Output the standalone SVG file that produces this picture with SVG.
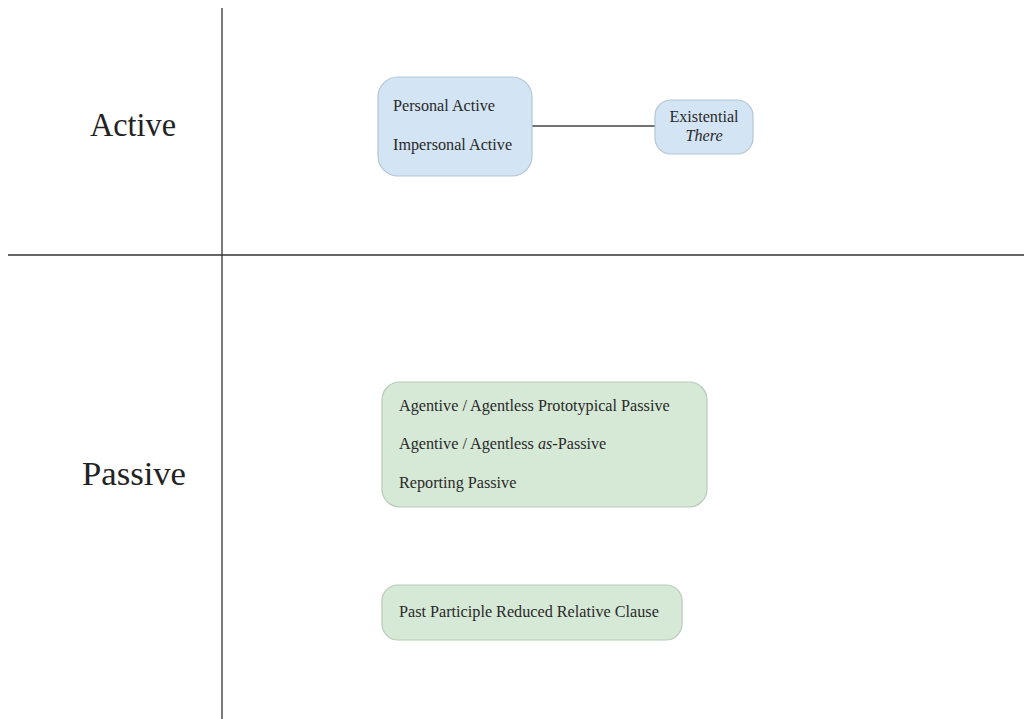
<svg xmlns="http://www.w3.org/2000/svg" width="1024" height="719" viewBox="0 0 1024 719">
  <style>
    .axis { stroke: #333; stroke-width: 1.3; fill: none; }
    .blue { fill: #d3e4f4; stroke: #b4c6d6; stroke-width: 1.2; }
    .green { fill: #d6e9d6; stroke: #b8cab8; stroke-width: 1.2; }
    .lbl { font-family: "Liberation Serif", "Times New Roman", serif; font-size: 16.2px; fill: #2a2a2a; }
    .big { font-family: "Liberation Serif", "Times New Roman", serif; font-size: 33px; fill: #222; }
    .link { stroke: #444; stroke-width: 1.4; fill: none; }
  </style>
  <rect width="1024" height="719" fill="#fff"/>

  <!-- quadrant axes and row headings -->
  <g id="axes">
    <line class="axis" x1="222" y1="8" x2="222" y2="719"/>
    <line class="axis" x1="8" y1="255" x2="1024" y2="255"/>
    <text class="big" x="90" y="136" textLength="86" lengthAdjust="spacingAndGlyphs">Active</text>
    <text class="big" x="82" y="485" textLength="104" lengthAdjust="spacingAndGlyphs">Passive</text>
  </g>

  <g id="connectors">
    <line class="link" x1="532" y1="126" x2="655" y2="126"/>
  </g>

  <g id="node-active">
    <rect class="blue" x="378" y="77" width="154" height="99" rx="20"/>
    <text class="lbl" x="393" y="111">Personal Active</text>
    <text class="lbl" x="393" y="150">Impersonal Active</text>
  </g>

  <g id="node-existential">
    <rect class="blue" x="655" y="100" width="98" height="54" rx="16"/>
    <text class="lbl" x="704" y="122" text-anchor="middle">Existential</text>
    <text class="lbl" x="704" y="141" text-anchor="middle" font-style="italic">There</text>
  </g>

  <g id="node-passive">
    <rect class="green" x="382" y="382" width="325" height="125" rx="18"/>
    <text class="lbl" x="399" y="411">Agentive / Agentless Prototypical Passive</text>
    <text class="lbl" x="399" y="449">Agentive / Agentless <tspan font-style="italic">as</tspan>-Passive</text>
    <text class="lbl" x="399" y="488">Reporting Passive</text>
  </g>

  <g id="node-participle">
    <rect class="green" x="382" y="585" width="300" height="55" rx="16"/>
    <text class="lbl" x="399" y="617">Past Participle Reduced Relative Clause</text>
  </g>
</svg>
